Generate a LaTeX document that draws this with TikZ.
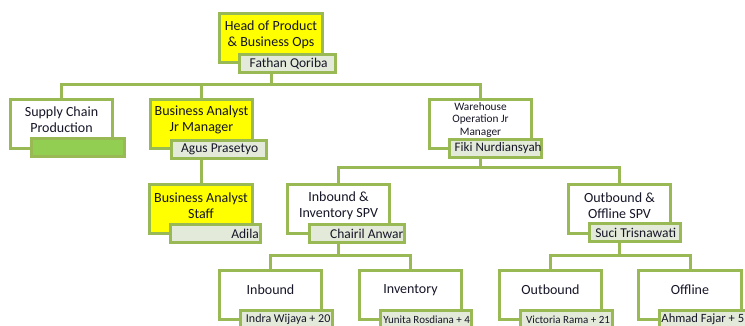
\documentclass[tikz,border=0pt]{standalone}
\usepackage{fontspec}
\setmainfont{Carlito}
\usetikzlibrary{backgrounds}
\definecolor{ogreen}{RGB}{152,185,84}
\definecolor{yel}{RGB}{255,255,0}
\definecolor{namefill}{RGB}{228,234,217}
\definecolor{sgreen}{RGB}{146,206,82}
\definecolor{txt}{RGB}{22,22,40}
\tikzset{
  box/.style={draw=ogreen, line width=3pt, minimum width=102.5pt, minimum height=49.5pt, inner sep=0pt, fill=white},
  ybox/.style={box, fill=yel},
  namebox/.style={draw=ogreen, line width=2.8pt, fill=namefill, minimum height=17.5pt, inner sep=0pt, anchor=north west},
  conn/.style={draw=ogreen, line width=3pt},
  maintext/.style={align=center, font=\fontsize{14}{16}\selectfont, text=txt, inner sep=0pt},
  smalltext/.style={align=center, font=\fontsize{11.3}{12.5}\selectfont, text=txt, inner sep=0pt},
  nametext/.style={font=\fontsize{13.5}{16}\selectfont, text=txt, inner sep=0pt},
}
\begin{document}
\begin{tikzpicture}[x=1pt,y=-1pt]
\useasboundingbox (0,0) rectangle (745,325);
\clip (0,0) rectangle (745,325);
% boxes
\node[ybox] (top) at (271,38) {};
\node[box] (sc) at (61.5,124) {};
\node[ybox] (ba) at (201.5,124) {};
\node[box] (wh) at (480.5,124) {};
\node[ybox] (bas) at (201,209) {};
\node[box] (iis) at (338.5,209) {};
\node[box] (oos) at (619.5,209) {};
\node[box] (inb) at (270.5,295) {};
\node[box] (inv) at (410.5,295) {};
\node[box] (outb) at (550.5,295) {};
\node[box] (off) at (690,295) {};
% main texts
\node[maintext] (top-t) at ([yshift=3pt]top.center) {Head of Product\\\& Business Ops};
\node[maintext] (sc-t) at ([yshift=4pt]sc.center) {Supply Chain\\Production};
\node[maintext] (ba-t) at ([yshift=4pt]ba.center) {Business Analyst\\Jr Manager};
\node[smalltext] (wh-t) at ([yshift=4pt]wh.center) {Warehouse\\Operation Jr\\Manager};
\node[maintext] (bas-t) at ([yshift=3pt]bas.center) {Business Analyst\\Staff};
\node[maintext] (iis-t) at ([yshift=3pt]iis.center) {Inbound \&\\Inventory SPV};
\node[maintext] (oos-t) at ([yshift=3pt]oos.center) {Outbound \&\\Offline SPV};
\node[maintext] (inb-t) at ([yshift=5pt]inb.center) {Inbound};
\node[maintext] (inv-t) at ([yshift=5pt]inv.center) {Inventory};
\node[maintext] (outb-t) at ([yshift=5pt]outb.center) {Outbound};
\node[maintext] (off-t) at ([yshift=5pt]off.center) {Offline};
% name labels
\node[namebox, minimum width=96pt] (top-l) at ([shift={(20,-11)}]top.south west) {};
\node[namebox, minimum width=93pt, fill=sgreen] (sc-l) at ([shift={(21,-13)}]sc.south west) {};
\node[namebox, minimum width=95pt] (ba-l) at ([shift={(21,-11)}]ba.south west) {};
\node[namebox, minimum width=92pt] (wh-l) at ([shift={(20,-12)}]wh.south west) {};
\node[namebox, minimum width=90pt] (bas-l) at ([shift={(21,-12)}]bas.south west) {};
\node[namebox, minimum width=95pt] (iis-l) at ([shift={(22,-12)}]iis.south west) {};
\node[namebox, minimum width=91pt] (oos-l) at ([shift={(21,-13)}]oos.south west) {};
\node[namebox, minimum width=92pt] (inb-l) at ([shift={(21,-12)}]inb.south west) {};
\node[namebox, minimum width=91pt] (inv-l) at ([shift={(21,-12)}]inv.south west) {};
\node[namebox, minimum width=92pt] (outb-l) at ([shift={(21,-12)}]outb.south west) {};
\node[namebox, minimum width=92pt] (off-l) at ([shift={(21,-12)}]off.south west) {};
% name texts
\node[nametext] (top-n) at ([xshift=1pt]top-l.center) {Fathan Qoriba};
\node[nametext] (ba-n) at ([xshift=1pt]ba-l.center) {Agus Prasetyo};
\node[nametext, font=\fontsize{13}{16}\selectfont] (wh-n) at ([xshift=3pt]wh-l.center) {Fiki Nurdiansyah};
\node[nametext, anchor=east] (bas-n) at ([xshift=-3pt]bas-l.east) {Adila};
\node[nametext, anchor=east] (iis-n) at ([xshift=-2pt]iis-l.east) {Chairil Anwar};
\node[nametext] (oos-n) at ([xshift=1pt]oos-l.center) {Suci Trisnawati};
\node[nametext, font=\fontsize{12}{14}\selectfont] (inb-n) at ([xshift=2pt]inb-l.center) {Indra Wijaya + 20};
\node[nametext, font=\fontsize{11}{13}\selectfont] (inv-n) at ([xshift=1pt]inv-l.center) {Yunita Rosdiana + 4};
\node[nametext, font=\fontsize{11}{13}\selectfont] (outb-n) at ([xshift=2pt]outb-l.center) {Victoria Rama + 21};
\node[nametext, font=\fontsize{12.6}{15}\selectfont, anchor=west] (off-n) at ([xshift=3pt]off-l.west) {Ahmad Fajar + 5};
% connectors
\begin{pgfonlayer}{background}
\fill[white] (0,0) rectangle (745,325);
\coordinate (bus1) at (0,84);
\coordinate (bus2) at (0,167);
\coordinate (bus3) at (0,255);
\draw[conn] (top.south) -- (top.south |- bus1) -| (sc.north);
\draw[conn] (top.south |- bus1) -| (ba.north);
\draw[conn] (top.south |- bus1) -| (wh.north);
\draw[conn] (ba.south) -- (ba.south |- bas.north);
\draw[conn] (wh.south) -- (wh.south |- bus2) -| (iis.north);
\draw[conn] (wh.south |- bus2) -| (oos.north);
\draw[conn] (iis.south) -- (iis.south |- bus3) -| (inb.north);
\draw[conn] (iis.south |- bus3) -| (inv.north);
\draw[conn] (oos.south) -- (oos.south |- bus3) -| (outb.north);
\draw[conn] (oos.south |- bus3) -| (off.north);
\end{pgfonlayer}
\end{tikzpicture}
\end{document}
